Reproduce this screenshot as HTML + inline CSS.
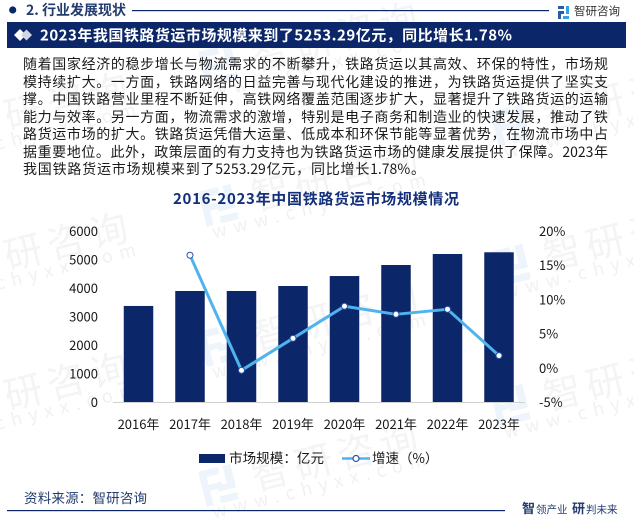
<!DOCTYPE html>
<html lang="zh-CN">
<head>
<meta charset="utf-8">
<title>2016-2023年中国铁路货运市场规模情况</title>
<style>
html,body{margin:0;padding:0;background:#fff;}
body{width:634px;height:520px;overflow:hidden;position:relative;font-family:"Noto Sans CJK SC","Liberation Sans",sans-serif;}
#stage{position:absolute;left:0;top:0;}
.ln{position:absolute;left:23px;width:585px;height:18px;font-size:14px;line-height:18px;color:#1a1a1a;text-align:justify;text-align-last:justify;white-space:nowrap;}
</style>
</head>
<body>
<svg id="stage" width="634" height="520" viewBox="0 0 634 520" xmlns="http://www.w3.org/2000/svg">
  <g id="watermarks"></g>

  <circle cx="12.7" cy="10" r="3.6" fill="#0c2769"/>
  <text x="26" y="15" font-size="14" font-weight="700" fill="#233c70">2. 行业发展现状</text>
  <rect x="132" y="10" width="417" height="1.2" fill="#0c2769"/>
  <g>
    <rect x="558" y="6" width="6" height="3" fill="#2d5aa6"/>
    <rect x="558" y="11" width="6" height="3" fill="#2d5aa6"/>
    <rect x="558" y="11" width="3" height="8" fill="#2d5aa6"/>
    <rect x="566" y="6" width="3" height="8" fill="#35a3e0"/>
    <rect x="563" y="16" width="6" height="3" fill="#35a3e0"/>
  </g>
  <text x="574" y="15" font-size="11.5" fill="#333">智研咨询</text>

  <rect x="7" y="22" width="619" height="26" fill="#0c2769"/>
  <polygon points="14,35 20,29 26,35 20,41" fill="#fff"/>
  <polygon points="21,35 26.5,29.5 32,35 26.5,40.5" fill="#cfd6e4"/>
  <text x="40" y="40.5" font-size="15" font-weight="700" fill="#fff" textLength="472" lengthAdjust="spacing">2023年我国铁路货运市场规模来到了5253.29亿元，同比增长1.78%</text>

  <text x="316" y="204" font-size="15" font-weight="700" fill="#14307a" text-anchor="middle" textLength="286" lengthAdjust="spacing">2016-2023年中国铁路货运市场规模情况</text>

  <g id="chart"></g>

  <g>
    <rect x="199" y="454" width="26" height="9" fill="#0c2769"/>
    <text x="229" y="463" font-size="13.5" fill="#1a1a1a" textLength="95" lengthAdjust="spacing">市场规模：亿元</text>
    <line x1="342" y1="458.5" x2="370" y2="458.5" stroke="#4fb3ee" stroke-width="2.4"/>
    <circle cx="356" cy="458.5" r="3" fill="#fff" stroke="#2a52a8" stroke-width="1.2"/>
    <text x="372" y="463" font-size="13.5" fill="#1a1a1a">增速（%）</text>
  </g>

  <text x="24" y="503" font-size="13.5" fill="#233c70" textLength="123" lengthAdjust="spacing">资料来源：智研咨询</text>
  <rect x="7" y="510" width="498" height="1.2" fill="#0c2769"/>
  <text x="522" y="513" font-size="13" font-weight="700" fill="#233c70">智</text>
  <text x="536" y="513" font-size="10.5" fill="#233c70">领产业</text>
  <text x="572" y="513" font-size="13" font-weight="700" fill="#233c70">研</text>
  <text x="586" y="513" font-size="10.5" fill="#233c70">判未来</text>
</svg>

<div class="ln" style="top:55px">随着国家经济的稳步增长与物流需求的不断攀升，铁路货运以其高效、环保的特性，市场规</div>
<div class="ln" style="top:72.5px">模持续扩大。一方面，铁路网络的日益完善与现代化建设的推进，为铁路货运提供了坚实支</div>
<div class="ln" style="top:90px">撑。中国铁路营业里程不断延伸，高铁网络覆盖范围逐步扩大，显著提升了铁路货运的运输</div>
<div class="ln" style="top:107.5px">能力与效率。另一方面，物流需求的激增，特别是电子商务和制造业的快速发展，推动了铁</div>
<div class="ln" style="top:125px">路货运市场的扩大。铁路货运凭借大运量、低成本和环保节能等显著优势，在物流市场中占</div>
<div class="ln" style="top:142.5px">据重要地位。此外，政策层面的有力支持也为铁路货运市场的健康发展提供了保障。2023年</div>
<div class="ln" style="top:160px;width:402px">我国铁路货运市场规模来到了5253.29亿元，同比增长1.78%。</div>

<script>
var categories = ["2016年","2017年","2018年","2019年","2020年","2021年","2022年","2023年"];
var marketSize = [3370, 3895, 3895, 4070, 4420, 4807, 5193, 5253.29];
var growthRate = [null, 16.45, -0.37, 4.31, 9.0, 7.82, 8.55, 1.78];
var leftTicks = [0, 1000, 2000, 3000, 4000, 5000, 6000];
var rightTicks = [-5, 0, 5, 10, 15, 20];

var NS = "http://www.w3.org/2000/svg";
var plotLeft = 112.75, plotRight = 524.75, plotTop = 231, plotBottom = 402;
var barWidth = 29.5;

function xCenter(i){ return plotLeft + (plotRight - plotLeft) * (i + 0.5) / categories.length; }
function yLeft(v){ return plotBottom - (v - 0) / 6000 * (plotBottom - plotTop); }
function yRight(v){ return plotBottom - (v + 5) / 25 * (plotBottom - plotTop); }

function make(tag, attrs, parent, txt){
  var el = document.createElementNS(NS, tag);
  for (var k in attrs) el.setAttribute(k, attrs[k]);
  if (txt !== undefined) el.textContent = txt;
  parent.appendChild(el);
  return el;
}

var chart = document.getElementById("chart");

marketSize.forEach(function(v, i){
  var bar = make("rect", {x: xCenter(i) - barWidth / 2, y: yLeft(v), width: barWidth, height: plotBottom - yLeft(v), fill: "#0c2769"}, chart);
  
  
});

var axisLine = make("line", {x1: plotLeft, y1: plotBottom + 0.5, x2: plotRight, y2: plotBottom + 0.5, stroke: "#d0d0d0", "stroke-width": 1}, chart);



leftTicks.forEach(function(t){
  var lbl = make("text", {x: 98, y: yLeft(t) + 5, "font-size": 13, fill: "#1a1a1a", "text-anchor": "end"}, chart, String(t));
  
  
});

rightTicks.forEach(function(t){
  var lbl = make("text", {x: 539, y: yRight(t) + 5, "font-size": 13, fill: "#1a1a1a"}, chart, t + "%");
  
  
});

categories.forEach(function(c, i){
  var lbl = make("text", {x: xCenter(i), y: 429, "font-size": 13, fill: "#1a1a1a", "text-anchor": "middle"}, chart, c);
  
  
});

var pts = [];
growthRate.forEach(function(v, i){ if (v !== null) pts.push(xCenter(i) + "," + yRight(v)); });
var growthLine = make("polyline", {points: pts.join(" "), fill: "none", stroke: "#4fb3ee", "stroke-width": 3, "stroke-linejoin": "round"}, chart);



growthRate.forEach(function(v, i){
  if (v === null) return;
  var dot = make("circle", {cx: xCenter(i), cy: yRight(v), r: 3, fill: "#fff", stroke: "#2a52a8", "stroke-width": 1}, chart);
  
  
});

var wm = document.getElementById("watermarks");
function stamp(x, y){
  var g = make("g", {transform: "translate(" + x + " " + y + ") rotate(-14)"}, wm);
  
  
  make("path", {d: "M-18,-18H2V-11H-11V-3H2V3H-11V18H-18Z M7,-18H15V6H-3V0H7Z M-3,11H15V18H-3Z", fill: "#eef4fb"}, g);
  make("text", {x: 33, y: 14, "font-size": 38, fill: "#f4f4f4", "letter-spacing": 6}, g, "智研咨询");
  make("text", {x: -14, y: 31, "font-size": 18, fill: "#f1f1f1", "letter-spacing": 7}, g, "www.chyxx.com");
}
[[-70,135],[-70,275],[-70,415],[220,65],[220,205],[220,345],[220,485],[512,125],[512,265],[512,405]].forEach(function(p){ stamp(p[0], p[1]); });
</script>
</body>
</html>
